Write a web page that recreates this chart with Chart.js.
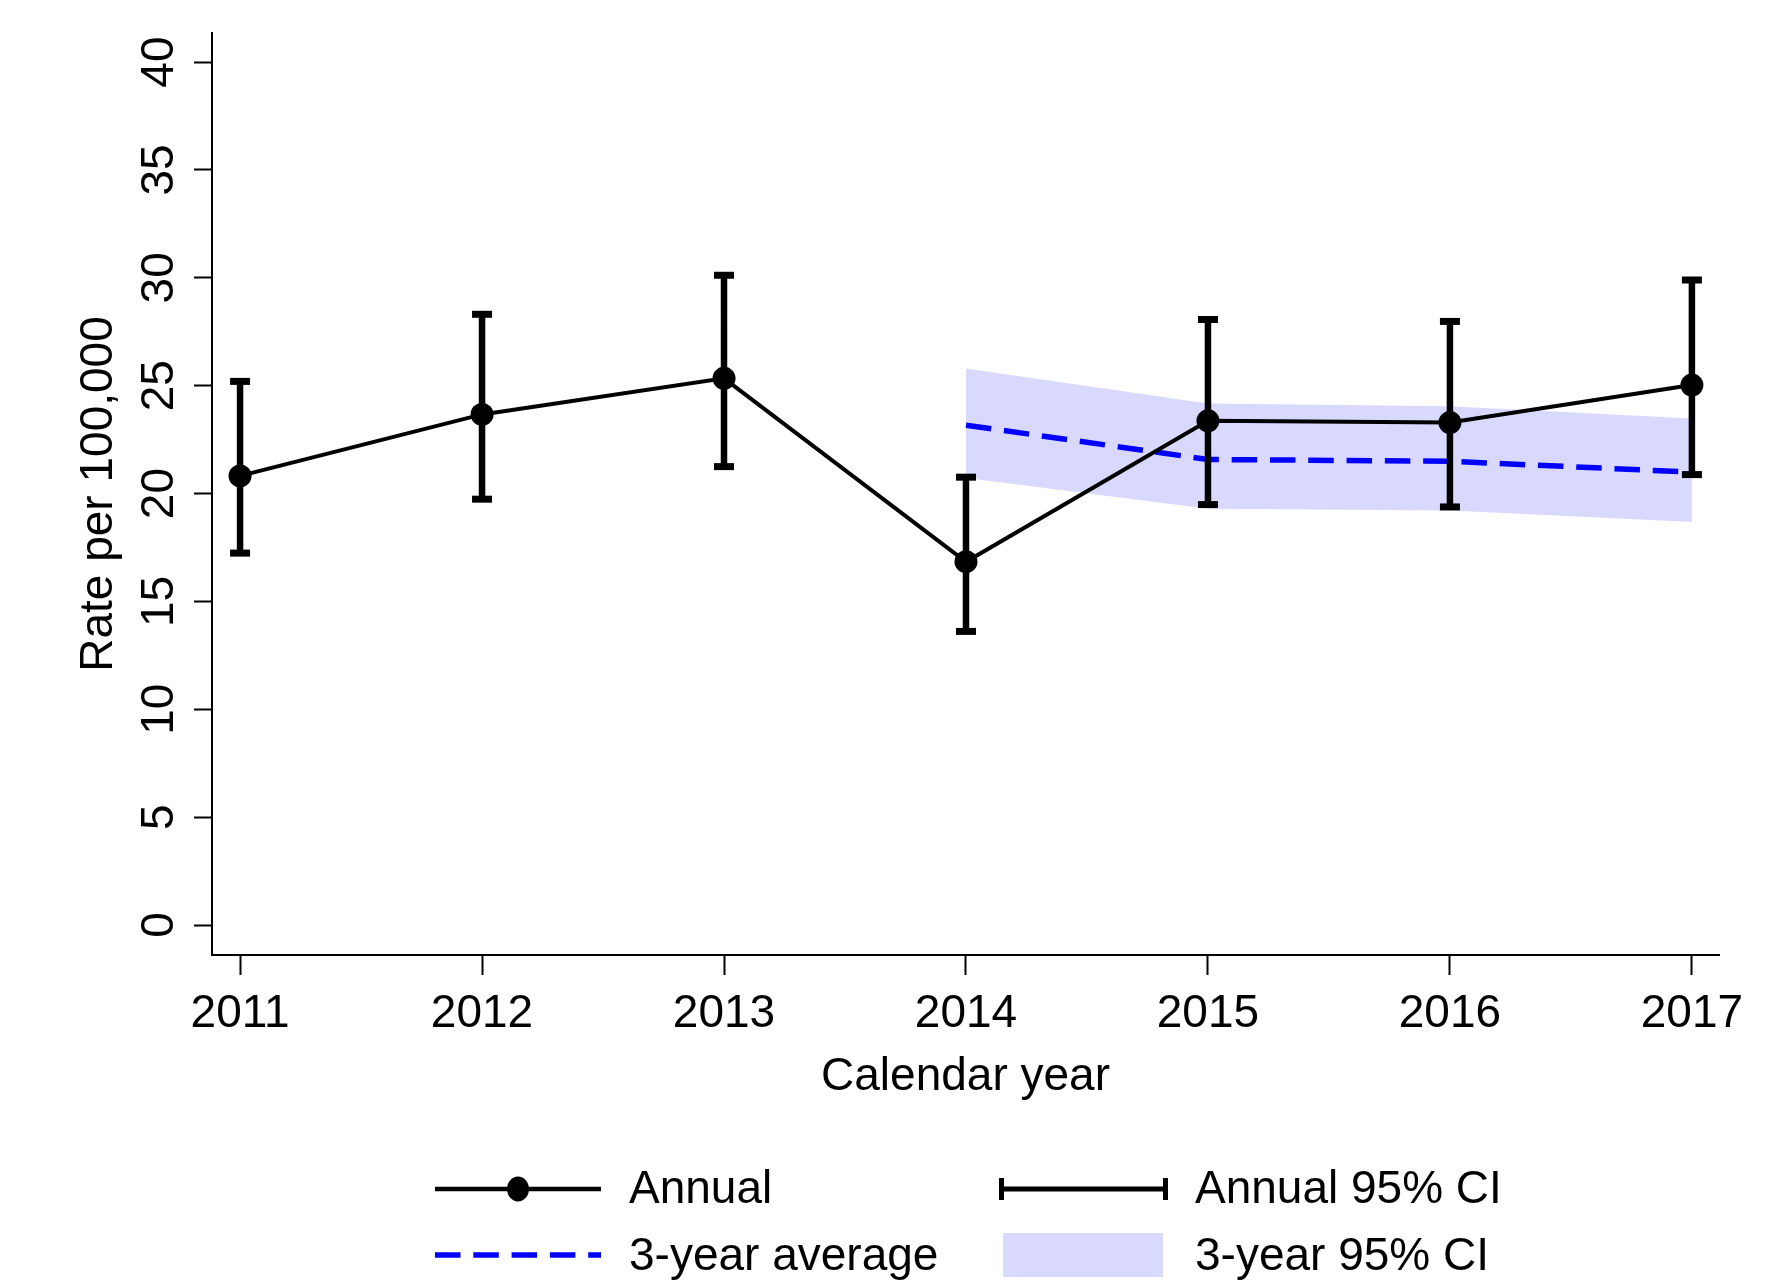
<!DOCTYPE html>
<html>
<head>
<meta charset="utf-8">
<title>Rate per 100,000 by calendar year</title>
<script src="https://cdn.jsdelivr.net/npm/chart.js@4.4.1/dist/chart.umd.min.js"></script>
<style>
    html, body { margin: 0; padding: 0; background: #ffffff; }
    #wrap { position: relative; width: 1791px; height: 1287px; }
</style>
</head>
<body>
<div id="wrap"><canvas id="rateChart"></canvas></div>
<script>
const years = [2011, 2012, 2013, 2014, 2015, 2016, 2017];
const annualRate  = [20.82, 23.67, 25.34, 16.84, 23.37, 23.29, 25.03];
const annualLower = [17.24, 19.74, 21.25, 13.61, 19.49, 19.38, 20.88];
const annualUpper = [25.20, 28.31, 30.12, 20.76, 28.07, 27.98, 29.90];

const avgYears = [2014, 2015, 2016, 2017];
const avgRate  = [23.17, 21.58, 21.50, 20.99];
const avgLower = [20.72, 19.30, 19.22, 18.68];
const avgUpper = [25.80, 24.18, 24.05, 23.48];

const yTicks = [0, 5, 10, 15, 20, 25, 30, 35, 40];

const FONT = '"Liberation Sans", Arial, Helvetica, sans-serif';
const BAND = 'rgba(0, 0, 255, 0.15)';
const DASH = [25.5, 12.8];

function pts(xs, ys) {
    return xs.map((x, i) => ({x: x, y: ys[i]}));
}

// error bars: low/high pairs split by a null so each year is its own segment
const errorBars = [];
years.forEach((yr, i) => {
    errorBars.push({x: yr, y: annualLower[i]});
    errorBars.push({x: yr, y: annualUpper[i]});
    errorBars.push({x: yr, y: null});
});

// Stata style legend under the plot
const legendPlugin = {
    id: 'stataLegend',
    afterDraw(chart) {
        const ctx = chart.ctx;
        ctx.save();
        ctx.lineCap = 'butt';

        // Annual
        ctx.strokeStyle = '#000';
        ctx.lineWidth = 4.5;
        ctx.beginPath();
        ctx.moveTo(435, 1189);
        ctx.lineTo(601, 1189);
        ctx.stroke();
        ctx.fillStyle = '#000';
        ctx.beginPath();
        ctx.ellipse(518, 1189, 11, 12.5, 0, 0, Math.PI * 2);
        ctx.fill();

        // 3-year average
        ctx.strokeStyle = '#0000ff';
        ctx.lineWidth = 5.5;
        ctx.setLineDash(DASH);
        ctx.beginPath();
        ctx.moveTo(435, 1255);
        ctx.lineTo(601, 1255);
        ctx.stroke();
        ctx.setLineDash([]);

        // Annual 95% CI
        ctx.strokeStyle = '#000';
        ctx.lineWidth = 5;
        ctx.beginPath();
        ctx.moveTo(999, 1189);
        ctx.lineTo(1168, 1189);
        ctx.moveTo(1001.5, 1178);
        ctx.lineTo(1001.5, 1200);
        ctx.moveTo(1165.5, 1178);
        ctx.lineTo(1165.5, 1200);
        ctx.stroke();

        // 3-year 95% CI
        ctx.fillStyle = BAND;
        ctx.fillRect(1003, 1233, 160, 44);

        ctx.fillStyle = '#000';
        ctx.font = '46px ' + FONT;
        ctx.textAlign = 'left';
        ctx.textBaseline = 'middle';
        ctx.fillText('Annual', 629, 1190);
        ctx.fillText('3-year average', 629, 1257);
        ctx.fillText('Annual 95% CI', 1195, 1190);
        ctx.fillText('3-year 95% CI', 1195, 1257);
        ctx.restore();
    }
};

new Chart(document.getElementById('rateChart'), {
    type: 'line',
    data: {
        datasets: [
            {
                label: 'Annual',
                data: pts(years, annualRate),
                borderColor: '#000',
                borderWidth: 4,
                pointRadius: 11.5,
                pointBackgroundColor: '#000',
                pointBorderWidth: 0,
                fill: false,
                order: 1
            },
            {
                label: 'Annual 95% CI',
                data: errorBars,
                borderColor: '#000',
                borderWidth: 6.5,
                pointStyle: 'line',
                pointRadius: 10,
                pointBorderWidth: 7,
                pointBorderColor: '#000',
                spanGaps: false,
                fill: false,
                order: 2
            },
            {
                label: '3-year average',
                data: pts(avgYears, avgRate),
                borderColor: '#0000ff',
                borderWidth: 5.5,
                borderDash: DASH,
                pointRadius: 0,
                fill: false,
                order: 3
            },
            {
                label: '3-year 95% CI',
                data: pts(avgYears, avgUpper),
                borderWidth: 0,
                borderColor: 'rgba(0,0,0,0)',
                backgroundColor: BAND,
                pointRadius: 0,
                fill: '+1',
                order: 4
            },
            {
                label: '3-year 95% CI lower',
                data: pts(avgYears, avgLower),
                borderWidth: 0,
                borderColor: 'rgba(0,0,0,0)',
                pointRadius: 0,
                fill: false,
                order: 5
            }
        ]
    },
    options: {
        responsive: true,
        maintainAspectRatio: false,
        devicePixelRatio: 1,
        animation: false,
        events: [],
        layout: {
            padding: {left: 0, top: 33, right: 72, bottom: 172}
        },
        plugins: {
            legend: { display: false },
            tooltip: { enabled: false }
        },
        scales: {
            x: {
                type: 'linear',
                min: 2010.884,
                max: 2017.112,
                afterBuildTicks: (s) => { s.ticks = years.map(v => ({value: v})); },
                afterFit: (s) => { s.height = 160; s.paddingLeft = 0; s.paddingRight = 0; },
                ticks: {
                    autoSkip: false,
                    maxRotation: 0,
                    padding: 12,
                    color: '#000',
                    font: {family: FONT, size: 46},
                    callback: (v) => String(v)
                },
                grid: {
                    drawOnChartArea: false,
                    drawTicks: true,
                    tickLength: 20,
                    tickWidth: 2,
                    tickColor: '#000'
                },
                border: { display: true, color: '#000', width: 2 },
                title: {
                    display: true,
                    text: 'Calendar year',
                    color: '#000',
                    font: {family: FONT, size: 46},
                    padding: {top: 0, bottom: 10}
                }
            },
            y: {
                type: 'linear',
                min: -1.39,
                max: 41.35,
                afterBuildTicks: (s) => { s.ticks = yTicks.map(v => ({value: v})); },
                afterFit: (s) => { s.width = 212; s.paddingTop = 0; s.paddingBottom = 0; },
                ticks: {
                    minRotation: 90,
                    maxRotation: 90,
                    crossAlign: 'center',
                    padding: 8,
                    color: '#000',
                    font: {family: FONT, size: 46},
                    callback: (v) => String(v)
                },
                grid: {
                    drawOnChartArea: false,
                    drawTicks: true,
                    tickLength: 18,
                    tickWidth: 2,
                    tickColor: '#000'
                },
                border: { display: true, color: '#000', width: 2 },
                title: {
                    display: true,
                    text: 'Rate per 100,000',
                    color: '#000',
                    font: {family: FONT, size: 46},
                    padding: {top: 72, bottom: 0}
                }
            }
        }
    },
    plugins: [legendPlugin]
});
</script>
</body>
</html>
